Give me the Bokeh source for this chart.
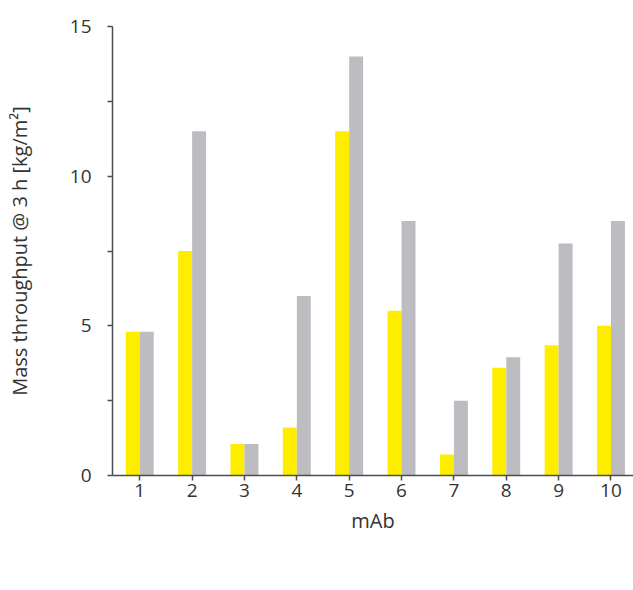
from bokeh.plotting import figure
from bokeh.models import ColumnDataSource, Range1d, Legend, LegendItem, FixedTicker
from bokeh.transform import dodge
from bokeh.embed import file_html
from bokeh.resources import INLINE

mabs = [1, 2, 3, 4, 5, 6, 7, 8, 9, 10]
tick_labels = ["1", "2", "3", "4", "5", "6", "7", "8", "9", "10"]
without_max = [4.8, 7.5, 1.05, 1.6, 11.5, 5.5, 0.7, 3.6, 4.35, 5.0]
with_max = [4.8, 11.5, 1.05, 6.0, 14.0, 8.5, 2.5, 3.95, 7.75, 8.5]
series_names = ["w/o Virosart® Max", "w/ Virosart® Max"]
y_ticks = [0, 5, 10, 15]

FONT = "Open Sans"
TXT = "#333333"
AX = "#4d4d4d"
YELLOW = "#FFED00"
GRAY = "#BDBDC1"

src = ColumnDataSource(data=dict(x=mabs, a=without_max, b=with_max))

p = figure(frame_width=521, frame_height=449, output_backend="svg", toolbar_location=None,
           x_range=Range1d(0.48, 10.43), y_range=Range1d(0, 15),
           min_border_left=112, min_border_right=0, min_border_top=26, min_border_bottom=0)
p.outline_line_color = None
p.xgrid.grid_line_color = None
p.ygrid.grid_line_color = None
p.background_fill_color = "white"
p.border_fill_color = "white"

bw = 0.267
r1 = p.vbar(x=dodge("x", -bw / 2, range=p.x_range), top="a", width=bw, source=src,
            fill_color=YELLOW, line_color=None)
r2 = p.vbar(x=dodge("x", bw / 2, range=p.x_range), top="b", width=bw, source=src,
            fill_color=GRAY, line_color=None)

# axes
p.xaxis.ticker = FixedTicker(ticks=mabs)
p.xaxis.major_label_overrides = {m: t for m, t in zip(mabs, tick_labels)}
p.xaxis.axis_label = "mAb"
p.yaxis.ticker = FixedTicker(ticks=y_ticks, minor_ticks=[2.5, 7.5, 12.5])
p.yaxis.axis_label = "Mass throughput @ 3 h [kg/m²]"

for ax in (p.xaxis, p.yaxis):
    ax.axis_line_color = AX
    ax.axis_line_width = 1.5
    ax.major_tick_line_color = AX
    ax.major_tick_line_width = 1.5
    ax.minor_tick_line_color = AX
    ax.minor_tick_line_width = 1.5
    ax.major_tick_in = 0
    ax.major_tick_out = 5
    ax.minor_tick_in = 0
    ax.minor_tick_out = 5
    ax.major_label_text_font = FONT
    ax.major_label_text_font_size = "19px"
    ax.major_label_text_color = TXT
    ax.axis_label_text_font = FONT
    ax.axis_label_text_font_size = "20px"
    ax.axis_label_text_font_style = "normal"
    ax.axis_label_text_color = TXT

p.xaxis.minor_tick_out = 0
p.xaxis.major_label_standoff = 3
p.xaxis.axis_label_standoff = 7
p.yaxis.major_label_standoff = 16
p.yaxis.axis_label_standoff = 34

legend = Legend(items=[LegendItem(label=series_names[0], renderers=[r1]),
                       LegendItem(label=series_names[1], renderers=[r2])],
                orientation="horizontal", location=(-4, 0),
                glyph_width=18, glyph_height=6, label_text_font=FONT,
                label_text_font_size="20px", label_text_color=TXT,
                label_standoff=14, spacing=38, padding=0, margin=0,
                border_line_color=None, background_fill_alpha=0)
p.add_layout(legend, "below")

open("out.html", "w").write(file_html(p, INLINE))
